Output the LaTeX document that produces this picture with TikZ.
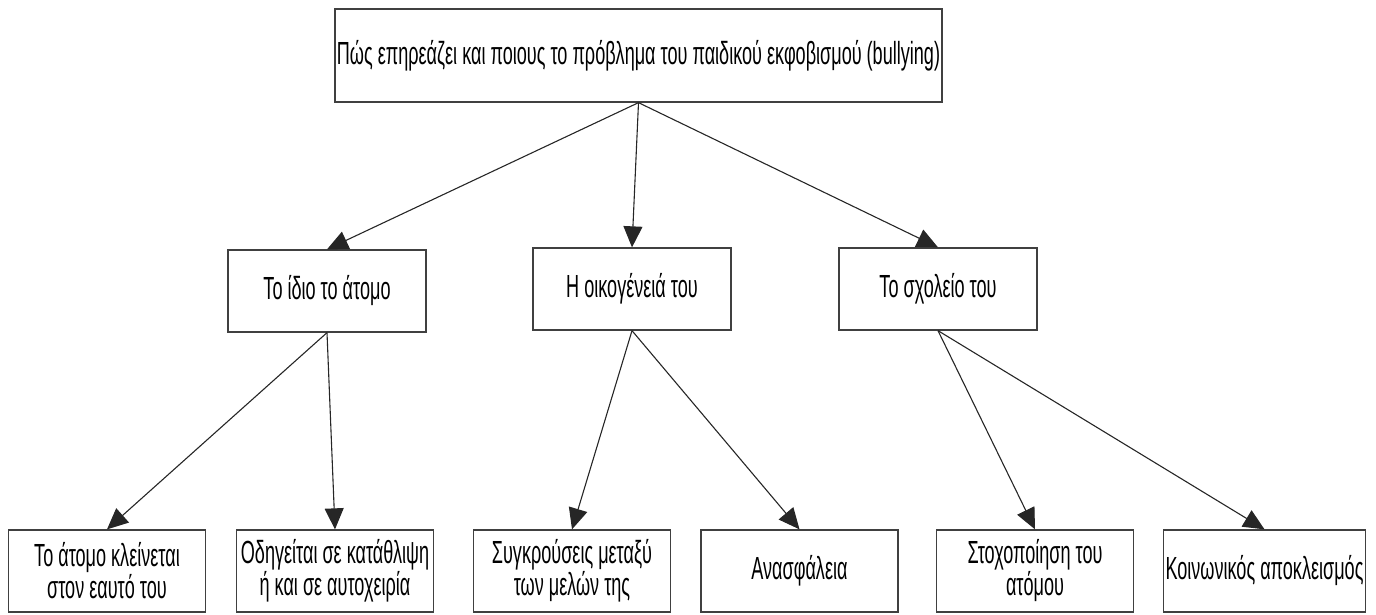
\documentclass[tikz,border=0pt]{standalone}
\usepackage{fontspec}
\setmainfont[FakeStretch=0.565]{Liberation Sans}
\usetikzlibrary{arrows.meta}
\tikzset{
  box/.style={draw=black!75, line width=1.3pt, rectangle, minimum width=198pt,
    minimum height=82pt, inner sep=2pt, align=center,
    font=\fontsize{32}{32}\selectfont},
  link/.style={draw=black!85, line width=1.1pt,
    -{Triangle[length=21pt,width=19pt]}},
}
\begin{document}
\begin{tikzpicture}[x=1pt,y=-1pt]
    \useasboundingbox (0,0) rectangle (1376,614);
    \def\y{571}
    \node [box, minimum width=607pt, minimum height=93pt] (Q) at (638.5,55.5)
      {Πώς επηρεάζει και ποιους το πρόβλημα του παιδικού εκφοβισμού (bullying)};
    \node [box] (B1) at (327,291) {Το ίδιο το άτομο};
    \node [box] (B2) at (632,289) {Η οικογένειά του};
    \node [box] (B3) at (938,289) {Το σχολείο του};
    \node [box, minimum width=197pt] (C1_1) at (107,\y) {Το άτομο κλείνεται\\στον εαυτό του};
    \node [box, minimum width=197pt] (C1_2) at (335,\y) {Οδηγείται σε κατάθλιψη\\ή και σε αυτοχειρία};
    \node [box, minimum width=197pt] (C2_1) at (572,\y) {Συγκρούσεις μεταξύ\\των μελών της};
    \node [box, minimum width=197pt] (C2_2) at (799.5,\y) {Ανασφάλεια};
    \node [box, minimum width=197pt] (C3_1) at (1035,\y) {Στοχοποίηση του\\ατόμου};
    \node [box, minimum width=197pt] (C3_2) at (1264.5,\y) {Κοινωνικός αποκλεισμός};
    \path (Q.south) edge [link] (B1.north);
    \path (Q.south) edge [link] (B2.north);
    \path (Q.south) edge [link] (B3.north);
    \path (B1.south) edge [link] (C1_1.north);
    \path (B1.south) edge [link] (C1_2.north);
    \path (B2.south) edge [link] (C2_1.north);
    \path (B2.south) edge [link] (C2_2.north);
    \path (B3.south) edge [link] (C3_1.north);
    \path (B3.south) edge [link] (C3_2.north);
  \end{tikzpicture}
\end{document}
